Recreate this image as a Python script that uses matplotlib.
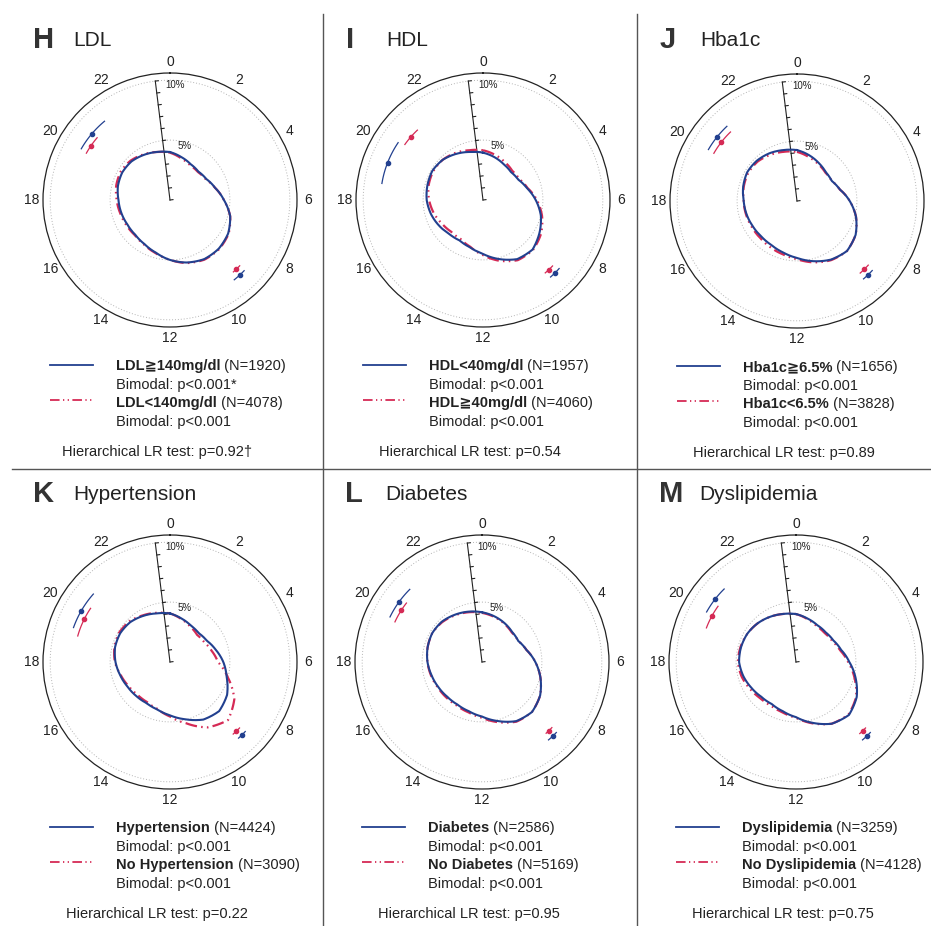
import numpy as np
import matplotlib.pyplot as plt

plt.rcParams['font.family'] = ['Liberation Sans', 'DejaVu Sans']

W, H = 931, 926
hours = list(range(24))

# hourly share (%) per group
ldl_high = [4.0, 3.7, 3.45, 3.35, 3.5, 3.9, 4.5, 5.2, 5.6, 5.75, 5.7, 5.4,
            5.0, 4.55, 4.25, 4.1, 4.1, 4.2, 4.3, 4.5, 4.6, 4.55, 4.35, 4.15]
ldl_low = [3.95, 3.6, 3.35, 3.3, 3.45, 3.9, 4.5, 5.2, 5.65, 5.8, 5.75, 5.45,
           5.0, 4.6, 4.3, 4.15, 4.2, 4.3, 4.45, 4.65, 4.75, 4.65, 4.4, 4.15]
hdl_low = [3.95, 3.7, 3.45, 3.3, 3.4, 3.8, 4.4, 5.0, 5.45, 5.85, 5.7, 5.1,
           4.5, 4.1, 3.9, 4.0, 4.25, 4.5, 4.7, 4.8, 4.88, 4.75, 4.45, 4.15]
hdl_high = [4.15, 3.9, 3.65, 3.45, 3.5, 3.85, 4.5, 5.1, 5.6, 5.9, 5.8, 5.25,
            4.6, 4.05, 3.75, 3.75, 3.95, 4.25, 4.5, 4.7, 4.8, 4.75, 4.55, 4.3]
hba_high = [4.25, 3.95, 3.65, 3.4, 3.35, 3.7, 4.4, 5.1, 5.65, 5.9, 5.65, 5.2,
            4.75, 4.45, 4.25, 4.2, 4.25, 4.35, 4.45, 4.65, 4.8, 4.75, 4.6, 4.4]
hba_low = [4.1, 3.8, 3.55, 3.35, 3.35, 3.7, 4.4, 5.1, 5.65, 5.9, 5.7, 5.3,
           4.85, 4.6, 4.45, 4.35, 4.35, 4.4, 4.45, 4.6, 4.7, 4.65, 4.45, 4.25]
htn_yes = [4.05, 3.75, 3.5, 3.4, 3.55, 3.95, 4.45, 4.9, 5.5, 5.8, 5.55, 4.95,
           4.45, 4.1, 3.95, 4.0, 4.1, 4.3, 4.55, 4.75, 4.8, 4.7, 4.45, 4.2]
htn_no = [4.05, 3.7, 3.4, 3.2, 3.3, 3.6, 4.0, 5.0, 6.2, 6.85, 6.3, 5.3,
          4.55, 4.05, 3.85, 3.85, 4.0, 4.25, 4.6, 4.8, 4.9, 4.8, 4.5, 4.25]
dm_yes = [4.15, 3.95, 3.75, 3.55, 3.5, 3.85, 4.45, 5.05, 5.6, 5.9, 5.7, 5.1,
          4.55, 4.25, 4.1, 4.1, 4.2, 4.35, 4.55, 4.7, 4.8, 4.75, 4.55, 4.35]
dm_no = [4.1, 3.9, 3.7, 3.5, 3.5, 3.85, 4.45, 5.05, 5.6, 5.9, 5.75, 5.2,
         4.65, 4.35, 4.2, 4.2, 4.25, 4.4, 4.55, 4.7, 4.8, 4.7, 4.5, 4.3]
dys_yes = [4.0, 3.75, 3.55, 3.5, 3.6, 3.9, 4.45, 5.15, 5.85, 6.25, 5.95, 5.25,
           4.6, 4.25, 4.05, 4.1, 4.3, 4.55, 4.75, 4.75, 4.7, 4.55, 4.35, 4.15]
dys_no = [4.0, 3.7, 3.45, 3.4, 3.5, 3.8, 4.35, 5.05, 5.8, 6.2, 5.95, 5.3,
          4.65, 4.35, 4.2, 4.25, 4.45, 4.7, 4.85, 4.8, 4.7, 4.55, 4.35, 4.15]

# peak times (hour, lower, upper) : evening peak, morning peak
ldl_high_pk = [(20.68, 20.0, 21.35), (9.14, 8.91, 9.41)]
ldl_low_pk = [(20.31, 19.95, 20.7), (9.09, 8.89, 9.24)]
hdl_low_pk = [(19.43, 18.62, 20.27), (9.02, 8.8, 9.25)]
hdl_high_pk = [(20.74, 20.36, 21.12), (9.11, 8.9, 9.3)]
hba_high_pk = [(20.57, 20.01, 21.12), (9.07, 8.85, 9.3)]
hba_low_pk = [(20.52, 19.99, 21.07), (9.02, 8.8, 9.25)]
htn_yes_pk = [(20.0, 19.31, 20.77), (9.01, 8.85, 9.2)]
htn_no_pk = [(19.77, 19.05, 20.27), (9.09, 8.9, 9.25)]
dm_yes_pk = [(20.37, 19.74, 21.01), (9.1, 8.9, 9.3)]
dm_no_pk = [(20.17, 19.65, 20.53), (9.05, 8.88, 9.2)]
dys_yes_pk = [(20.51, 19.95, 21.03), (9.1, 8.9, 9.3)]
dys_no_pk = [(19.91, 19.39, 20.37), (9.07, 8.9, 9.22)]

letters = ['H', 'I', 'J', 'K', 'L', 'M']
titles = ['LDL', 'HDL', 'Hba1c', 'Hypertension', 'Diabetes', 'Dyslipidemia']
names_a = ['LDL≧140mg/dl', 'HDL<40mg/dl', 'Hba1c≧6.5%', 'Hypertension', 'Diabetes', 'Dyslipidemia']
names_b = ['LDL<140mg/dl', 'HDL≧40mg/dl', 'Hba1c<6.5%', 'No Hypertension', 'No Diabetes', 'No Dyslipidemia']
n_a = [1920, 1957, 1656, 4424, 2586, 3259]
n_b = [4078, 4060, 3828, 3090, 5169, 4128]
bimodal_a = ['p<0.001*', 'p<0.001', 'p<0.001', 'p<0.001', 'p<0.001', 'p<0.001']
bimodal_b = ['p<0.001'] * 6
lr_p = ['0.92†', '0.54', '0.89', '0.22', '0.95', '0.75']

series_a = [ldl_high, hdl_low, hba_high, htn_yes, dm_yes, dys_yes]
series_b = [ldl_low, hdl_high, hba_low, htn_no, dm_no, dys_no]
peaks_a = [ldl_high_pk, hdl_low_pk, hba_high_pk, htn_yes_pk, dm_yes_pk, dys_yes_pk]
peaks_b = [ldl_low_pk, hdl_high_pk, hba_low_pk, htn_no_pk, dm_no_pk, dys_no_pk]

# layout (pixels)
centers = [(170, 200), (483, 200), (797, 201), (170, 662), (482, 662), (796, 662)]
title_y = [40, 40, 40, 494, 494, 494]

RMAX = 10.6
R_PX = 127
AXIS_HOUR = 23.53
BLUE = '#22408f'
RED = '#d52a55'
TXT = '#222222'
RED_DASH = (0, (5.3, 1.9, 0.7, 1.9, 0.7, 1.9))
PK_R_A, PK_R_B = 8.55, 8.0
FS = 10.5

fig = plt.figure(figsize=(W / 100, H / 100), dpi=100)


def fx(x):
    return x / W


def fy(y):
    return 1 - y / H


def rad(h):
    return np.asarray(h, dtype=float) * 2 * np.pi / 24


bold_texts = []

for i in range(6):
    cx, cy = centers[i]
    ax = fig.add_axes([fx(cx - R_PX), fy(cy + R_PX), 2 * R_PX / W, 2 * R_PX / H],
                      projection='polar')
    ax.set_theta_zero_location('N')
    ax.set_theta_direction(-1)
    ax.set_ylim(0, RMAX)
    ax.set_yticks([])
    ax.set_xticks(rad(range(0, 24, 2)))
    ax.set_xticklabels([str(h) for h in range(0, 24, 2)], fontsize=10, color=TXT)
    ax.set_xticks(rad(range(1, 24, 2)), minor=True)
    ax.tick_params(axis='x', which='major', direction='out', length=4, width=0.8, pad=-3)
    ax.tick_params(axis='x', which='minor', direction='in', length=3, width=0.8)
    ax.grid(False)
    ax.spines['polar'].set_linewidth(0.9)
    ax.spines['polar'].set_color('#222222')

    # dotted reference circles
    full = np.linspace(0, 2 * np.pi, 300)
    for lev in (5, 10):
        ax.plot(full, np.full_like(full, lev), color='#b5b5b5', lw=0.7, ls=(0, (1, 2)))

    # radial axis with 1% ticks
    a = rad(AXIS_HOUR)
    ax.plot([a, a], [0, 10], color='#222222', lw=0.8)
    tl = 0.25
    for r in range(0, 11):
        if r == 0:
            ax.plot([a, a + np.pi / 2], [0, tl], color='#222222', lw=0.8)
        else:
            ax.plot([a, a + np.arctan2(tl, r)], [r, np.hypot(r, tl)], color='#222222', lw=0.8)
    ax.annotate('10%', (a, 10), xytext=(7, -3), textcoords='offset points',
                fontsize=7, color=TXT, ha='left', va='center')
    ax.annotate('5%', (a, 5), xytext=(11, -4), textcoords='offset points',
                fontsize=7, color=TXT, ha='left', va='center')

    # curves (drawn as arcs between the hourly points)
    th = rad(hours + [24])
    vb = series_b[i] + [series_b[i][0]]
    va = series_a[i] + [series_a[i][0]]
    lb, = ax.plot(th, vb, color=RED, lw=1.6, ls=RED_DASH)
    la, = ax.plot(th, va, color=BLUE, lw=1.5)
    for ln in (lb, la):
        ln.get_path()._interpolation_steps = 40

    # peak estimates with intervals
    for pk, rr, col in ((peaks_a[i], PK_R_A, BLUE), (peaks_b[i], PK_R_B, RED)):
        for (hc, lo, hi) in pk:
            seg = np.linspace(lo, hi, 20)
            ax.plot(rad(seg), np.full_like(seg, rr), color=col, lw=0.9)
            ax.plot(rad([hc]), [rr], 'o', color=col, ms=3)

    # titles
    fig.text(fx(cx - 137), fy(title_y[i]), letters[i], fontsize=21, weight='bold',
             color='#333333', ha='left', va='center')
    fig.text(fx(cx - 97), fy(title_y[i]), titles[i], fontsize=15, color=TXT,
             ha='left', va='center')

    # legend
    ly = cy + 165
    fig.add_artist(plt.Line2D([fx(cx - 120), fx(cx - 77)], [fy(ly), fy(ly)],
                              transform=fig.transFigure, color=BLUE, lw=1.3))
    fig.add_artist(plt.Line2D([fx(cx - 120), fx(cx - 77)], [fy(ly + 35), fy(ly + 35)],
                              transform=fig.transFigure, color=RED, lw=1.3, ls=RED_DASH))
    t1 = fig.text(fx(cx - 54), fy(ly + 5), names_a[i], fontsize=FS, weight='bold',
                  color=TXT, ha='left', va='baseline')
    t2 = fig.text(fx(cx - 54), fy(ly + 42), names_b[i], fontsize=FS, weight='bold',
                  color=TXT, ha='left', va='baseline')
    bold_texts.append((t1, ' (N=%d)' % n_a[i]))
    bold_texts.append((t2, ' (N=%d)' % n_b[i]))
    fig.text(fx(cx - 54), fy(ly + 24), 'Bimodal: ' + bimodal_a[i], fontsize=FS,
             color=TXT, ha='left', va='baseline')
    fig.text(fx(cx - 54), fy(ly + 61), 'Bimodal: ' + bimodal_b[i], fontsize=FS,
             color=TXT, ha='left', va='baseline')
    fig.text(fx(cx - 13), fy(ly + 91), 'Hierarchical LR test: p=' + lr_p[i], fontsize=FS,
             color=TXT, ha='center', va='baseline')

# regular "(N=...)" right after the bold names
renderer = fig.canvas.get_renderer()
for t, extra in bold_texts:
    bb = t.get_window_extent(renderer)
    fig.text(bb.x1 / fig.bbox.width, t.get_position()[1], extra, fontsize=FS,
             color=TXT, ha='left', va='baseline')

# panel dividers
for x in (323, 637):
    fig.add_artist(plt.Line2D([fx(x), fx(x)], [fy(14), fy(926)],
                              transform=fig.transFigure, color='#555555', lw=1.0))
fig.add_artist(plt.Line2D([fx(12), fx(931)], [fy(469), fy(469)],
                          transform=fig.transFigure, color='#555555', lw=1.0))

fig.savefig('out.png', dpi=100, facecolor='white')
